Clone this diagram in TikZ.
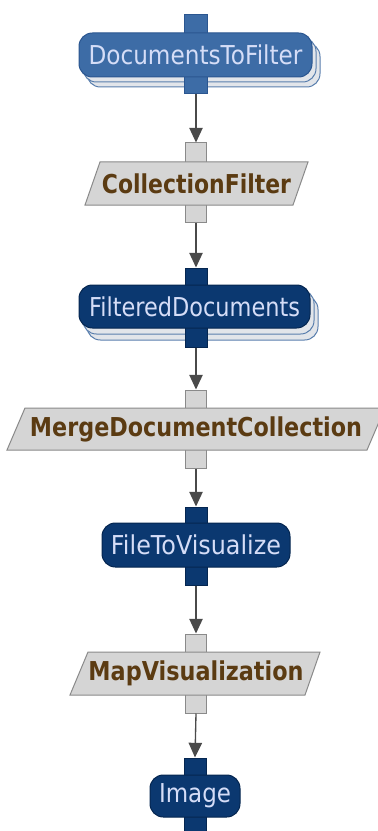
\documentclass[tikz,border=0pt]{standalone}
\usepackage{fontspec}
\setmainfont{DejaVu Sans}
\usetikzlibrary{arrows.meta}
\definecolor{midblue}{HTML}{3D6CA6}
\definecolor{midblueline}{HTML}{2B5690}
\definecolor{navy}{HTML}{0B3870}
\definecolor{navyline}{HTML}{052650}
\definecolor{lighttext}{HTML}{D5DDF7}
\definecolor{shadowfill}{HTML}{E2E5EA}
\definecolor{shadowline}{HTML}{5A7FAE}
\definecolor{greyfill}{HTML}{D5D5D5}
\definecolor{greyline}{HTML}{8A8A8A}
\definecolor{browntext}{HTML}{5B3B12}
\definecolor{arrowgrey}{HTML}{4A4A4A}
\newcommand\fitto[2]{\resizebox{#1}{\height}{#2}}
\begin{document}
\begin{tikzpicture}[x=0.75pt,y=-0.75pt,
  bodyfont/.style={font=\fontsize{19.5}{22}\selectfont},
  bluebody/.style={draw=midblueline, fill=midblue, text=lighttext, rounded corners=10pt,
    inner sep=0pt, line width=0.75pt, bodyfont},
  navybody/.style={draw=navyline, fill=navy, text=lighttext, rounded corners=10pt,
    inner sep=0pt, line width=0.75pt, bodyfont},
  shadowlayer/.style={draw=shadowline, fill=shadowfill, rounded corners=10pt, line width=0.75pt},
  bport/.style={draw=midblueline, fill=midblue, inner sep=0pt, minimum width=23*0.75pt, line width=0.75pt},
  nport/.style={draw=navyline, fill=navy, inner sep=0pt, minimum width=22*0.75pt, line width=0.75pt},
  gport/.style={draw=greyline, fill=greyfill, inner sep=0pt, minimum width=21*0.75pt, line width=0.75pt},
  para/.style={draw=greyline, fill=greyfill, line width=0.75pt},
  paratext/.style={text=browntext, inner sep=0pt, font=\fontsize{19.5}{22}\selectfont\bfseries},
  arr/.style={draw=arrowgrey, line width=1pt, -{Triangle[length=11pt,width=10pt]}}
]
\useasboundingbox (0,0) rectangle (378,831);
\fill[white] (0,0) rectangle (378,831);

% ---- DocumentsToFilter
\draw[shadowlayer] (87,43) rectangle (320,87);
\draw[shadowlayer] (83,38) rectangle (316,82);
\node[bport, minimum height=25*0.75pt] (dtft) at (196,27.5) {};
\node[bport, minimum height=24*0.75pt] (dtfb) at (196,82) {};
\node[bluebody, minimum width=233*0.75pt, minimum height=44*0.75pt] (dtf) at (195.5,55)
  {\fitto{160.5pt}{DocumentsToFilter}};

% ---- CollectionFilter
\node[gport, minimum height=26*0.75pt] (cft) at (196,156) {};
\node[gport, minimum height=24*0.75pt] (cfb) at (196,210) {};
\draw[para] (100,162) -- (308,162) -- (293,205) -- (85,205) -- cycle;
\node[paratext] (cf) at (196.5,183.5) {\fitto{141.75pt}{CollectionFilter}};

% ---- FilteredDocuments
\draw[shadowlayer] (87,296) rectangle (318,340);
\draw[shadowlayer] (83,290) rectangle (314,334);
\node[nport, minimum height=24*0.75pt] (fdt) at (196,280) {};
\node[nport, minimum height=26*0.75pt] (fdb) at (196,334) {};
\node[navybody, minimum width=231*0.75pt, minimum height=43*0.75pt] (fd) at (194.5,306.5)
  {\fitto{158.25pt}{FilteredDocuments}};

% ---- MergeDocumentCollection
\node[gport, minimum height=24*0.75pt] (mdct) at (196,402) {};
\node[gport, minimum height=24*0.75pt] (mdcb) at (196,456) {};
\draw[para] (25,408) -- (385,408) -- (367,450) -- (7,450) -- cycle;
\node[paratext] (mdc) at (196,429) {\fitto{249pt}{MergeDocumentCollection}};

% ---- FileToVisualize
\node[nport, minimum height=23*0.75pt] (ftvt) at (196,518.5) {};
\node[nport, minimum height=24*0.75pt] (ftvb) at (196,573) {};
\node[navybody, minimum width=188*0.75pt, minimum height=44*0.75pt] (ftv) at (196,545)
  {\fitto{127.5pt}{FileToVisualize}};

% ---- MapVisualization
\node[gport, minimum height=24*0.75pt] (mvt) at (196,646) {};
\node[gport, minimum height=24*0.75pt] (mvb) at (196,701) {};
\draw[para] (88,652) -- (320,652) -- (305,695) -- (70,695) -- cycle;
\node[paratext] (mv) at (196,673.5) {\fitto{161.25pt}{MapVisualization}};

% ---- Image
\node[nport, minimum height=23*0.75pt] (imgt) at (195,769.5) {};
\node[nport, minimum height=30*0.75pt] (imgb) at (195,826) {};
\node[navybody, minimum width=90*0.75pt, minimum height=42*0.75pt] (img) at (195,796)
  {\fitto{54pt}{Image}};

% ---- connectors
\draw[arr] (dtfb.south) -- (cft.north);
\draw[arr] (cfb.south) -- (fdt.north);
\draw[arr] (fdb.south) -- (mdct.north);
\draw[arr] (mdcb.south) -- (ftvt.north);
\draw[arr] (ftvb.south) -- (mvt.north);
\draw[arr] (mvb.south) -- (imgt.north);
\end{tikzpicture}
\end{document}
